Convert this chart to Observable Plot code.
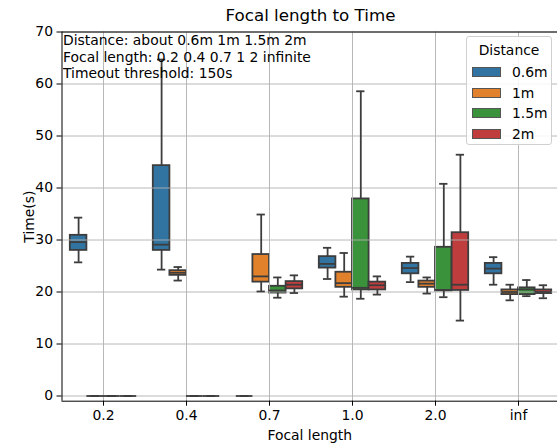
<!DOCTYPE html>
<html>
<head>
<meta charset="utf-8">
<script src="https://cdn.jsdelivr.net/npm/d3@7"></script>
<script src="https://cdn.jsdelivr.net/npm/@observablehq/plot@0.6"></script>
<style>
  html, body { margin: 0; padding: 0; background: white; overflow: hidden; }
  #wrap { position: relative; width: 557px; height: 445px; font-family: "DejaVu Sans", sans-serif; }
  #title { position: absolute; left: 61.5px; width: 498px; top: 0; height: 28px; line-height: 30px; text-align: center; font-size: 16.7px; color: black; }
  #chart { position: absolute; left: 0; top: 28px; }
  #legend { position: absolute; left: 466px; top: 36px; width: 84px; height: 107px; border: 1px solid #d0d0d0; border-radius: 3px; background: rgba(255,255,255,0.85); font-size: 13.9px; color: black; }
  #legend .lt { text-align: center; margin-top: 5px; height: 20px; }
  #legend .row { position: absolute; left: 5px; height: 20px; display: flex; align-items: center; }
  #legend .sw { width: 27px; height: 8px; border: 1px solid #555; margin-right: 11px; }
</style>
</head>
<body>
<div id="wrap">
  <div id="title">Focal length to Time</div>
  <div id="chart"></div>
  <div id="legend"></div>
</div>
<script>
const focal = ["0.2", "0.4", "0.7", "1.0", "2.0", "inf"];
const distances = ["0.6m", "1m", "1.5m", "2m"];
const colors = ["#3274a1", "#e1812c", "#3a923a", "#c03d3e"];
const yTicks = [0, 10, 20, 30, 40, 50, 60, 70];
const note = ["Distance: about 0.6m 1m 1.5m 2m", "Focal length: 0.2 0.4 0.7 1 2 infinite", "Timeout threshold: 150s"];

// [low whisker, Q1, median, Q3, high whisker] for each focal length
const t06 = [[25.7, 28.0, 29.6, 30.9, 34.3], [24.3, 28.0, 29.1, 44.3, 64.7], [0, 0, 0, 0, 0], [22.5, 24.6, 25.4, 26.8, 28.5], [21.9, 23.5, 24.6, 25.5, 26.8], [21.4, 23.5, 24.5, 25.5, 26.7]];
const t1  = [[0, 0, 0, 0, 0], [22.2, 23.2, 23.7, 24.1, 24.8], [20.1, 21.9, 23.0, 27.2, 34.9], [19.1, 20.9, 21.7, 23.8, 27.5], [19.7, 20.9, 21.6, 22.1, 22.8], [18.4, 19.5, 20.0, 20.4, 21.4]];
const t15 = [[0, 0, 0, 0, 0], [0, 0, 0, 0, 0], [18.9, 19.8, 20.3, 21.1, 22.8], [18.7, 20.4, 20.8, 37.9, 58.6], [19.0, 20.2, 20.4, 28.6, 40.8], [19.2, 19.5, 20.5, 20.8, 22.3]];
const t2  = [[0, 0, 0, 0, 0], [0, 0, 0, 0, 0], [19.8, 20.6, 21.4, 22.0, 23.2], [19.5, 20.4, 21.3, 21.9, 23.0], [14.5, 20.3, 21.4, 31.4, 46.4], [18.8, 19.7, 20.0, 20.4, 21.3]];
const series = [t06, t1, t15, t2];

const rows = [];
series.forEach((s, j) => s.forEach((v, i) => {
  rows.push({focal: focal[i], dist: distances[j], pos: i + (j - 1.5) * 0.2,
             lo: v[0], q1: v[1], med: v[2], q3: v[3], hi: v[4]});
}));

const gray = "#3d3d3d";
const lw = 1.8;
const xTicks = focal.map((_, i) => i);

const chart = Plot.plot({
  width: 557,
  height: 417,
  marginLeft: 61.5,
  marginRight: 0,
  marginTop: 3.5,
  marginBottom: 44.3,
  style: {fontFamily: "DejaVu Sans", fontSize: "13.9px", color: "black", background: "white", overflow: "visible"},
  x: {type: "linear", domain: [-0.5, 5.5], range: [61.5, 559.5]},
  y: {domain: [-1, 70]},
  color: {domain: distances, range: colors},
  marks: [
    Plot.rect(rows, {x1: d => d.pos - 0.1, x2: d => d.pos + 0.1, y1: "q1", y2: "q3", fill: "dist", stroke: gray, strokeWidth: lw}),
    Plot.gridY(yTicks, {stroke: "#b0b0b0", strokeOpacity: 1, strokeWidth: 0.9}),
    Plot.gridX(xTicks, {stroke: "#b0b0b0", strokeOpacity: 1, strokeWidth: 0.9}),
    Plot.ruleX(rows, {x: "pos", y1: "q3", y2: "hi", stroke: gray, strokeWidth: lw}),
    Plot.ruleX(rows, {x: "pos", y1: "lo", y2: "q1", stroke: gray, strokeWidth: lw}),
    Plot.ruleY(rows, {y: "hi", x1: d => d.pos - 0.05, x2: d => d.pos + 0.05, stroke: gray, strokeWidth: lw}),
    Plot.ruleY(rows, {y: "lo", x1: d => d.pos - 0.05, x2: d => d.pos + 0.05, stroke: gray, strokeWidth: lw}),
    Plot.ruleY(rows, {y: "med", x1: d => d.pos - 0.1, x2: d => d.pos + 0.1, stroke: gray, strokeWidth: lw}),
    Plot.ruleY([-1], {stroke: "black", strokeWidth: 1}),
    Plot.ruleY([70], {stroke: "black", strokeWidth: 1}),
    Plot.ruleX([-0.5], {stroke: "black", strokeWidth: 1}),
    Plot.axisY({ticks: yTicks, tickSize: 5, tickPadding: 4, label: "Time(s)", labelAnchor: "center", labelArrow: "none", labelOffset: 38}),
    Plot.axisX({ticks: xTicks, tickFormat: i => focal[i], tickSize: 5, tickPadding: 4, label: "Focal length", labelAnchor: "center", labelArrow: "none", labelOffset: 39}),
    Plot.text([note.join("\n")], {frameAnchor: "top-left", textAnchor: "start", lineAnchor: "top", dx: 1, dy: 1, fontSize: 13.9, lineHeight: 1.2, fill: "black"})
  ]
});
document.getElementById("chart").appendChild(chart);

const legend = document.getElementById("legend");
const lt = document.createElement("div");
lt.className = "lt";
lt.textContent = "Distance";
legend.appendChild(lt);
distances.forEach((d, j) => {
  const row = document.createElement("div");
  row.className = "row";
  row.style.top = (25 + j * 20.7) + "px";
  const sw = document.createElement("div");
  sw.className = "sw";
  sw.style.background = colors[j];
  const lab = document.createElement("span");
  lab.textContent = d;
  row.appendChild(sw);
  row.appendChild(lab);
  legend.appendChild(row);
});
</script>
</body>
</html>
